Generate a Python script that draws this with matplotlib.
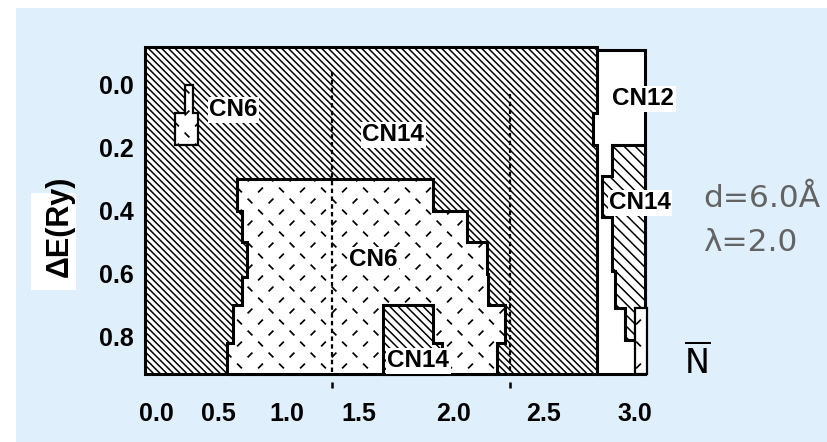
import matplotlib
matplotlib.use("Agg")
import matplotlib.pyplot as plt
import numpy as np
from matplotlib.collections import LineCollection
from matplotlib.patches import Polygon, Rectangle

plt.rcParams["font.family"] = ["Liberation Sans", "DejaVu Sans"]
plt.rcParams["hatch.linewidth"] = 1.1
plt.rcParams["mathtext.fontset"] = "dejavusans"

# axis values
ytick_vals = [0.0, 0.2, 0.4, 0.6, 0.8]
ytick_labels = ["0.0", "0.2", "0.4", "0.6", "0.8"]
xtick_pos = [0.07, 0.44, 0.85, 1.28, 1.85, 2.39, 2.94]
xtick_labels = ["0.0", "0.5", "1.0", "1.5", "2.0", "2.5", "3.0"]
guide_n = [1.12, 2.19]
guide_start = [-0.04, 0.03]

E_TOP, E_BOT = -0.12, 0.918
N_MAX = 3.03

# phase regions: boundary points (N, dE)
cn14_main_n = [0.0, 2.71, 2.71, 2.69, 2.69, 2.71, 2.71, 0.0]
cn14_main_e = [E_TOP, E_TOP, 0.09, 0.09, 0.19, 0.19, E_BOT, E_BOT]

cn12_n = [2.71, 3.0, 3.0, 2.71, 2.71, 2.69, 2.69, 2.71]
cn12_e = [-0.11, -0.11, E_BOT, E_BOT, 0.19, 0.19, 0.09, 0.09]

cn14_right_n = [2.80, 3.0, 3.0, 2.94, 2.94, 2.88, 2.88, 2.82, 2.82, 2.80, 2.80, 2.74, 2.74, 2.80]
cn14_right_e = [0.19, 0.19, 0.71, 0.71, 0.81, 0.81, 0.71, 0.71, 0.59, 0.59, 0.42, 0.42, 0.29, 0.29]

cn6_right_n = [2.94, 3.01, 3.01, 2.94]
cn6_right_e = [0.71, 0.71, E_BOT, E_BOT]

cn6_mid_n = [0.55, 1.725, 1.725, 1.93, 1.93, 2.05, 2.05, 2.06, 2.06, 2.16, 2.16, 2.11,
             2.11, 0.49, 0.49, 0.53, 0.53, 0.58, 0.58, 0.61, 0.61, 0.58, 0.58, 0.55]
cn6_mid_e = [0.30, 0.30, 0.40, 0.40, 0.50, 0.50, 0.60, 0.60, 0.70, 0.70, 0.82, 0.82,
             E_BOT, E_BOT, 0.82, 0.82, 0.70, 0.70, 0.61, 0.61, 0.50, 0.50, 0.40, 0.40]

cn14_low_n = [1.43, 1.725, 1.725, 1.78, 1.78, 1.43]
cn14_low_e = [0.70, 0.70, 0.82, 0.82, E_BOT, E_BOT]

cn6_small_n = [0.24, 0.29, 0.29, 0.32, 0.32, 0.18, 0.18, 0.24]
cn6_small_e = [0.0, 0.0, 0.09, 0.09, 0.19, 0.19, 0.09, 0.09]

# region labels
label_text = ["CN6", "CN14", "CN6", "CN14", "CN12", "CN14"]
label_n = [0.53, 1.49, 1.37, 1.64, 2.99, 2.97]
label_e = [0.079, 0.159, 0.556, 0.876, 0.044, 0.375]

W, H = 827, 442
fig = plt.figure(figsize=(W / 100, H / 100), dpi=100)
fig.patch.set_facecolor("white")
fig.patches.append(Rectangle((16 / W, 0), 1 - 16 / W, 1 - 8 / H, transform=fig.transFigure,
                             facecolor="#dff0fc", edgecolor="none", zorder=-10))
fig.patches.append(Rectangle((31 / W, 1 - 290 / H), 45 / W, 97 / H, transform=fig.transFigure,
                             facecolor="white", edgecolor="none", zorder=-5))

ax = fig.add_axes([145 / W, 1 - 374 / H, 505 / W, 327 / H])
ax.set_xlim(0, N_MAX)
ax.set_ylim(E_BOT, E_TOP)
ax.patch.set_alpha(0)
for s in ax.spines.values():
    s.set_visible(False)

ax.set_yticks(ytick_vals, ytick_labels)
ax.set_xticks(xtick_pos, xtick_labels)
ax.tick_params(length=0, labelsize=18)
ax.tick_params(axis="y", pad=8)
ax.tick_params(axis="x", pad=20)
for t in ax.get_xticklabels() + ax.get_yticklabels():
    t.set_fontweight("bold")

p0 = ax.transData.transform((0, 0))
p1 = ax.transData.transform((1, 1))
sx = p1[0] - p0[0]
sy = abs(p1[1] - p0[1])


def region(n, e, hatch=None, z=1, lw=2.2):
    poly = Polygon(np.column_stack([n, e]), closed=True, facecolor="white",
                   edgecolor="black", hatch=hatch, lw=lw, zorder=z, clip_on=False)
    ax.add_patch(poly)
    return poly


def dotted(poly, z):
    # short "\" and "/" strokes on a lattice, clipped to the region
    h = 2.4
    segs = []
    rows = int((E_BOT - E_TOP) * sy / 11) + 2
    cols = int(N_MAX * sx / 21) + 2
    for j in range(rows):
        for i in range(cols):
            px = i * 21 + (j % 2) * 10.5
            py = j * 11
            n0 = px / sx
            e0 = E_TOP + py / sy
            if (i + j // 2) % 2 == 0:
                segs.append([(n0 - h / sx, e0 - h / sy), (n0 + h / sx, e0 + h / sy)])
            else:
                segs.append([(n0 - h / sx, e0 + h / sy), (n0 + h / sx, e0 - h / sy)])
    lc = LineCollection(segs, colors="black", linewidths=1.25, zorder=z)
    ax.add_collection(lc)
    lc.set_clip_path(poly)


region(cn14_main_n, cn14_main_e, hatch="\\" * 5, z=1)
region(cn12_n, cn12_e, z=1)
region(cn14_right_n, cn14_right_e, hatch="\\" * 3, z=2)
box = region(cn6_right_n, cn6_right_e, z=2, lw=1.6)
dotted(box, 2.1)
mid = region(cn6_mid_n, cn6_mid_e, z=2)
dotted(mid, 2.1)
region(cn14_low_n, cn14_low_e, hatch="\\" * 4, z=3)
small = region(cn6_small_n, cn6_small_e, z=2, lw=1.6)
dotted(small, 2.1)

ax.vlines(guide_n, guide_start, E_BOT, colors="black", linestyles=(0, (2, 1.5)), lw=1.6, zorder=4)
ax.vlines(guide_n, 0.943, 0.962, colors="black", lw=1.8, clip_on=False, zorder=4)

for txt, n, e in zip(label_text, label_n, label_e):
    ax.text(n, e, txt, ha="center", va="center", fontsize=17.5, fontweight="bold", zorder=6,
            bbox=dict(facecolor="white", edgecolor="none", pad=1))

fig.text(60 / W, 1 - 226 / H, "ΔE(Ry)", rotation=90, ha="center", va="center",
         fontsize=22, fontweight="bold")
fig.text(697 / W, 1 - 362 / H, r"$\overline{\mathrm{N}}$", ha="center", va="center",
         fontsize=24, family="DejaVu Sans")
fig.text(703 / W, 1 - 199 / H, "d=6.0Å", ha="left", va="center", fontsize=22.5,
         color="#636363", family="DejaVu Sans")
fig.text(703 / W, 1 - 242 / H, "λ=2.0", ha="left", va="center", fontsize=22.5,
         color="#636363", family="DejaVu Sans")

fig.savefig("out.png", dpi=100)
